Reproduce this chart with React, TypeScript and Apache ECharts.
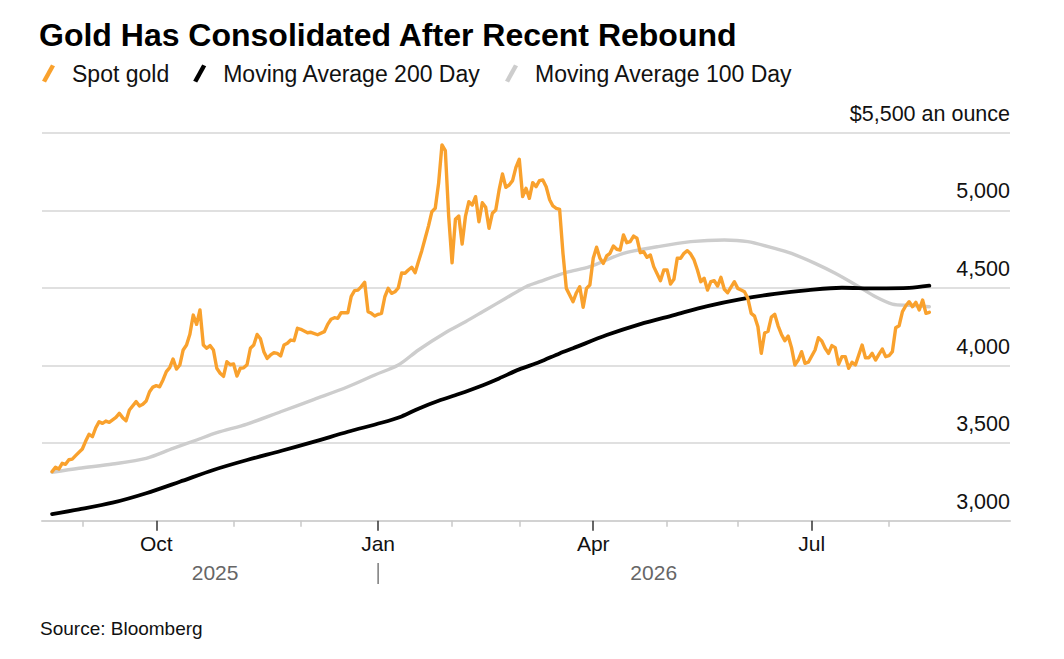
import React, { useEffect, useRef } from 'react';
import * as echarts from 'echarts';

const TITLE = 'Gold Has Consolidated After Recent Rebound';
const SOURCE = 'Source: Bloomberg';
const SERIES_NAMES = ['Spot gold', 'Moving Average 200 Day', 'Moving Average 100 Day'];
const SERIES_COLORS = ['#f9a12d', '#000000', '#cdcdcd'];
const AXIS_START = '2025-08-14';
const AXIS_END = '2026-09-22';
const Y_TICKS = [3000, 3500, 4000, 4500, 5000, 5500];
const Y_TOP_LABEL = '$5,500 an ounce';
const QUARTER_LABELS: Record<string, string> = { '2025-10': 'Oct', '2026-01': 'Jan', '2026-04': 'Apr', '2026-07': 'Jul' };
const YEAR_LABELS = ['2025', '2026'];
const YEAR_BREAK = '2026-01-01';
const FONT = 'Liberation Sans, Arial, Helvetica, sans-serif';

const SPOT_GOLD: [string, number][] = [
  ['2025-08-19', 3316], ['2025-08-20', 3344], ['2025-08-21', 3333], ['2025-08-22', 3370], ['2025-08-25', 3363],
  ['2025-08-26', 3393], ['2025-08-27', 3397], ['2025-08-28', 3419], ['2025-09-01', 3462], ['2025-09-02', 3513],
  ['2025-09-03', 3557], ['2025-09-04', 3541], ['2025-09-05', 3599], ['2025-09-08', 3638], ['2025-09-09', 3627],
  ['2025-09-10', 3642], ['2025-09-11', 3634], ['2025-09-15', 3666], ['2025-09-16', 3692], ['2025-09-17', 3664],
  ['2025-09-18', 3644], ['2025-09-19', 3713], ['2025-09-23', 3767], ['2025-09-24', 3739], ['2025-09-25', 3750],
  ['2025-09-26', 3771], ['2025-09-29', 3831], ['2025-09-30', 3861], ['2025-10-01', 3870], ['2025-10-02', 3863],
  ['2025-10-03', 3907], ['2025-10-06', 3960], ['2025-10-07', 3986], ['2025-10-08', 4042], ['2025-10-09', 3977],
  ['2025-10-10', 4003], ['2025-10-13', 4100], ['2025-10-14', 4132], ['2025-10-15', 4201], ['2025-10-16', 4325],
  ['2025-10-17', 4265], ['2025-10-20', 4358], ['2025-10-21', 4132], ['2025-10-22', 4111], ['2025-10-23', 4128],
  ['2025-10-24', 4100], ['2025-10-27', 3982], ['2025-10-28', 3950], ['2025-10-29', 3930], ['2025-10-30', 4024],
  ['2025-10-31', 4005], ['2025-11-03', 4010], ['2025-11-04', 3932], ['2025-11-05', 3982], ['2025-11-06', 3985],
  ['2025-11-07', 4005], ['2025-11-10', 4111], ['2025-11-11', 4132], ['2025-11-12', 4200], ['2025-11-13', 4172],
  ['2025-11-14', 4089], ['2025-11-17', 4046], ['2025-11-18', 4068], ['2025-11-19', 4082], ['2025-11-20', 4078],
  ['2025-11-21', 4062], ['2025-11-24', 4132], ['2025-11-25', 4143], ['2025-11-26', 4164], ['2025-11-27', 4160],
  ['2025-11-28', 4240], ['2025-12-01', 4233], ['2025-12-03', 4211], ['2025-12-04', 4214], ['2025-12-08', 4198],
  ['2025-12-10', 4218], ['2025-12-11', 4265], ['2025-12-12', 4298], ['2025-12-15', 4308], ['2025-12-16', 4304],
  ['2025-12-17', 4340], ['2025-12-19', 4340], ['2025-12-22', 4445], ['2025-12-23', 4482], ['2025-12-24', 4486],
  ['2025-12-25', 4508], ['2025-12-26', 4536], ['2025-12-29', 4347], ['2025-12-30', 4336], ['2025-12-31', 4319],
  ['2026-01-01', 4330], ['2026-01-02', 4336], ['2026-01-05', 4443], ['2026-01-06', 4497], ['2026-01-07', 4465],
  ['2026-01-08', 4475], ['2026-01-09', 4500], ['2026-01-12', 4596], ['2026-01-13', 4594], ['2026-01-14', 4615],
  ['2026-01-15', 4633], ['2026-01-16', 4598], ['2026-01-19', 4670], ['2026-01-20', 4740], ['2026-01-21', 4820],
  ['2026-01-22', 4900], ['2026-01-23', 4991], ['2026-01-26', 5013], ['2026-01-27', 5174], ['2026-01-28', 5421],
  ['2026-01-29', 5384], ['2026-01-30', 4960], ['2026-02-02', 4662], ['2026-02-03', 4942], ['2026-02-04', 4963],
  ['2026-02-05', 4783], ['2026-02-06', 4963], ['2026-02-09', 5055], ['2026-02-10', 5034], ['2026-02-11', 5088],
  ['2026-02-12', 4926], ['2026-02-13', 5049], ['2026-02-16', 5019], ['2026-02-17', 4884], ['2026-02-18', 4981],
  ['2026-02-19', 5002], ['2026-02-20', 5131], ['2026-02-23', 5234], ['2026-02-24', 5148], ['2026-02-25', 5163],
  ['2026-02-26', 5191], ['2026-02-27', 5277], ['2026-03-02', 5329], ['2026-03-03', 5088], ['2026-03-04', 5142],
  ['2026-03-05', 5077], ['2026-03-06', 5178], ['2026-03-09', 5152], ['2026-03-10', 5191], ['2026-03-11', 5195],
  ['2026-03-12', 5152], ['2026-03-13', 5070], ['2026-03-16', 5028], ['2026-03-17', 5013], ['2026-03-18', 5006],
  ['2026-03-19', 4723], ['2026-03-20', 4497], ['2026-03-24', 4411], ['2026-03-25', 4469], ['2026-03-26', 4508],
  ['2026-03-27', 4375], ['2026-03-30', 4497], ['2026-03-31', 4519], ['2026-04-01', 4691], ['2026-04-02', 4762],
  ['2026-04-03', 4691], ['2026-04-06', 4658], ['2026-04-07', 4706], ['2026-04-08', 4723], ['2026-04-09', 4770],
  ['2026-04-10', 4749], ['2026-04-13', 4744], ['2026-04-14', 4841], ['2026-04-15', 4791], ['2026-04-16', 4798],
  ['2026-04-17', 4834], ['2026-04-20', 4820], ['2026-04-21', 4727], ['2026-04-22', 4733], ['2026-04-23', 4697],
  ['2026-04-24', 4712], ['2026-04-27', 4637], ['2026-04-29', 4546], ['2026-04-30', 4615], ['2026-05-01', 4615],
  ['2026-05-04', 4525], ['2026-05-05', 4555], ['2026-05-06', 4691], ['2026-05-07', 4691], ['2026-05-08', 4723],
  ['2026-05-11', 4740], ['2026-05-12', 4718], ['2026-05-13', 4680], ['2026-05-14', 4615], ['2026-05-15', 4540],
  ['2026-05-18', 4562], ['2026-05-19', 4486], ['2026-05-20', 4540], ['2026-05-21', 4546], ['2026-05-22', 4512],
  ['2026-05-25', 4568], ['2026-05-26', 4491], ['2026-05-27', 4469], ['2026-05-29', 4540], ['2026-06-01', 4497],
  ['2026-06-02', 4486], ['2026-06-03', 4475], ['2026-06-04', 4433], ['2026-06-05', 4336], ['2026-06-08', 4318],
  ['2026-06-09', 4250], ['2026-06-10', 4078], ['2026-06-11', 4209], ['2026-06-12', 4220], ['2026-06-15', 4312],
  ['2026-06-16', 4330], ['2026-06-17', 4256], ['2026-06-18', 4200], ['2026-06-19', 4160], ['2026-06-22', 4190],
  ['2026-06-23', 4115], ['2026-06-24', 4003], ['2026-06-25', 4035], ['2026-06-26', 4089], ['2026-06-29', 4014],
  ['2026-06-30', 4021], ['2026-07-02', 4100], ['2026-07-03', 4179], ['2026-07-06', 4158], ['2026-07-07', 4111],
  ['2026-07-08', 4078], ['2026-07-09', 4128], ['2026-07-10', 4115], ['2026-07-13', 4008], ['2026-07-14', 4057],
  ['2026-07-15', 4057], ['2026-07-16', 3982], ['2026-07-17', 4021], ['2026-07-20', 4003], ['2026-07-21', 4068],
  ['2026-07-22', 4132], ['2026-07-23', 4050], ['2026-07-24', 4050], ['2026-07-27', 4078], ['2026-07-28', 4035],
  ['2026-07-29', 4072], ['2026-07-30', 4106], ['2026-07-31', 4057], ['2026-08-03', 4063], ['2026-08-04', 4089],
  ['2026-08-05', 4243], ['2026-08-06', 4256], ['2026-08-07', 4347], ['2026-08-10', 4385], ['2026-08-11', 4411],
  ['2026-08-12', 4379], ['2026-08-13', 4407], ['2026-08-14', 4358], ['2026-08-17', 4422], ['2026-08-18', 4336],
  ['2026-08-19', 4343],
];

const MA_200: [string, number][] = [
  ['2025-08-19', 3043], ['2025-08-29', 3073], ['2025-09-12', 3116], ['2025-09-26', 3177], ['2025-10-10', 3251],
  ['2025-10-24', 3327], ['2025-11-07', 3391], ['2025-11-21', 3449], ['2025-12-05', 3509], ['2025-12-19', 3573],
  ['2026-01-02', 3631], ['2026-01-12', 3672], ['2026-01-19', 3722], ['2026-01-27', 3773], ['2026-02-04', 3816],
  ['2026-02-12', 3863], ['2026-02-20', 3917], ['2026-03-02', 3975], ['2026-03-10', 4022], ['2026-03-18', 4078],
  ['2026-03-24', 4111], ['2026-04-07', 4196], ['2026-04-21', 4267], ['2026-05-05', 4325], ['2026-05-19', 4383],
  ['2026-06-02', 4428], ['2026-06-16', 4462], ['2026-06-30', 4486], ['2026-07-14', 4501], ['2026-07-28', 4497],
  ['2026-08-11', 4500], ['2026-08-19', 4514],
];

const MA_100: [string, number][] = [
  ['2025-08-19', 3312], ['2025-08-29', 3338], ['2025-09-12', 3365], ['2025-09-26', 3402], ['2025-10-08', 3466],
  ['2025-10-17', 3520], ['2025-10-27', 3567], ['2025-11-07', 3623], ['2025-11-21', 3702], ['2025-12-05', 3782],
  ['2025-12-19', 3863], ['2025-12-31', 3939], ['2026-01-09', 4003], ['2026-01-19', 4100], ['2026-01-29', 4211],
  ['2026-02-06', 4282], ['2026-02-16', 4358], ['2026-02-24', 4433], ['2026-03-04', 4508], ['2026-03-10', 4540],
  ['2026-03-20', 4600], ['2026-03-31', 4637], ['2026-04-14', 4723], ['2026-04-28', 4765], ['2026-05-12', 4798],
  ['2026-05-26', 4809], ['2026-06-04', 4798], ['2026-06-16', 4755], ['2026-06-23', 4722], ['2026-07-02', 4658],
  ['2026-07-10', 4594], ['2026-07-21', 4508], ['2026-07-28', 4443], ['2026-08-04', 4396], ['2026-08-11', 4388],
  ['2026-08-19', 4379],
];

// Trading-day (weekday) categories spanning the axis.
function buildWeekdays(start: string, end: string): string[] {
  const out: string[] = [];
  const d = new Date(start + 'T00:00:00Z');
  const e = new Date(end + 'T00:00:00Z');
  while (d.getTime() <= e.getTime()) {
    const wd = d.getUTCDay();
    if (wd !== 0 && wd !== 6) out.push(d.toISOString().slice(0, 10));
    d.setUTCDate(d.getUTCDate() + 1);
  }
  return out;
}

const CATEGORIES = buildWeekdays(AXIS_START, AXIS_END);
const LAST_DATE = SPOT_GOLD[SPOT_GOLD.length - 1][0];
const isMonthStart = (i: number) =>
  i > 0 && CATEGORIES[i] <= LAST_DATE && CATEGORIES[i].slice(0, 7) !== CATEGORIES[i - 1].slice(0, 7);
const isMajor = (i: number) => isMonthStart(i) && QUARTER_LABELS[CATEGORIES[i].slice(0, 7)] !== undefined;
const isMinor = (i: number) => isMonthStart(i) && !isMajor(i);

export default function App() {
  const ref = useRef<HTMLDivElement>(null);

  useEffect(() => {
    document.body.style.margin = '0';
    if (!ref.current) return;
    const chart = echarts.init(ref.current, undefined, { renderer: 'svg' });
    const mk = (i: number, data: [string, number][], z: number, width: number, smooth: number) => ({
      name: SERIES_NAMES[i],
      type: 'line',
      data,
      symbol: 'none',
      smooth,
      z,
      lineStyle: { color: SERIES_COLORS[i], width, cap: 'round', join: 'round' },
      itemStyle: { color: SERIES_COLORS[i] },
    });
    chart.setOption({
      animation: false,
      textStyle: { fontFamily: FONT },
      title: {
        text: TITLE,
        left: 39,
        top: 19,
        padding: 0,
        textStyle: { fontSize: 32, fontWeight: 'bold', color: '#000', fontFamily: FONT },
      },
      legend: {
        data: SERIES_NAMES,
        left: 42,
        top: 62,
        padding: 0,
        icon: 'path://M9,0 L13,1.8 L4,18 L0,16.2 Z M25,18 L25,18',
        itemWidth: 25,
        itemHeight: 18,
        itemGap: 24,
        selectedMode: false,
        itemStyle: { borderWidth: 0 },
        textStyle: { fontSize: 23, color: '#111', fontFamily: FONT },
      },
      grid: { left: 42, right: 54, top: 132.7, bottom: 138.3, containLabel: false },
      xAxis: [
        {
          type: 'category',
          data: CATEGORIES,
          boundaryGap: false,
          position: 'bottom',
          axisLine: { show: true, lineStyle: { color: '#d2d2d2', width: 2 } },
          axisTick: { show: true, interval: (i: number) => isMinor(i), length: 6, lineStyle: { color: '#c8c8c8', width: 1.5 } },
          axisLabel: { show: false },
          splitLine: { show: false },
        },
        {
          type: 'category',
          data: CATEGORIES,
          boundaryGap: false,
          position: 'bottom',
          axisLine: { show: false },
          axisTick: { show: true, interval: (i: number) => isMajor(i), length: 10, lineStyle: { color: '#333', width: 1.5 } },
          axisLabel: {
            show: true,
            interval: (i: number) => isMajor(i),
            formatter: (v: string) => QUARTER_LABELS[v.slice(0, 7)] || '',
            fontSize: 21,
            color: '#111',
            margin: 12,
            fontFamily: FONT,
          },
          splitLine: { show: false },
        },
      ],
      yAxis: {
        type: 'value',
        min: Y_TICKS[0],
        max: Y_TICKS[Y_TICKS.length - 1],
        interval: Y_TICKS[1] - Y_TICKS[0],
        position: 'right',
        axisLine: { show: false },
        axisTick: { show: false },
        splitLine: { show: true, lineStyle: { color: '#d6d6d6', width: 1.5 } },
        axisLabel: {
          inside: true,
          margin: 0,
          fontSize: 21.5,
          color: '#111',
          verticalAlign: 'bottom',
          padding: [0, 0, 8, 0],
          fontFamily: FONT,
          formatter: (v: number) => (v === Y_TICKS[Y_TICKS.length - 1] ? Y_TOP_LABEL : v.toLocaleString('en-US')),
        },
      },
      series: [
        mk(0, SPOT_GOLD, 4, 3.4, 0),
        mk(1, MA_200, 3, 3.8, 0.3),
        mk(2, MA_100, 2, 3.4, 0.3),
      ],
      graphic: [
        {
          id: 'source',
          type: 'text',
          left: 40,
          top: 619,
          style: { text: SOURCE, fontSize: 19, fill: '#111', fontFamily: FONT },
        },
      ],
    });

    const px = (d: string) => chart.convertToPixel({ xAxisIndex: 0 }, CATEGORIES.indexOf(d)) as number;
    const xStart = px(SPOT_GOLD[0][0]);
    const xEnd = px(LAST_DATE);
    const xBreak = px(YEAR_BREAK);
    chart.setOption({
      graphic: [
        {
          id: 'y1',
          type: 'text',
          x: (xStart + xBreak) / 2,
          y: 572,
          style: { text: YEAR_LABELS[0], fontSize: 21, fill: '#666', align: 'center', verticalAlign: 'middle', fontFamily: FONT },
        },
        {
          id: 'y2',
          type: 'text',
          x: (xBreak + xEnd) / 2,
          y: 572,
          style: { text: YEAR_LABELS[1], fontSize: 21, fill: '#666', align: 'center', verticalAlign: 'middle', fontFamily: FONT },
        },
        {
          id: 'sep',
          type: 'line',
          shape: { x1: xBreak, y1: 563, x2: xBreak, y2: 584 },
          style: { stroke: '#666', lineWidth: 1.3 },
        },
      ],
    });

    return () => chart.dispose();
  }, []);

  return <div ref={ref} style={{ width: 1064, height: 659 }} />;
}
